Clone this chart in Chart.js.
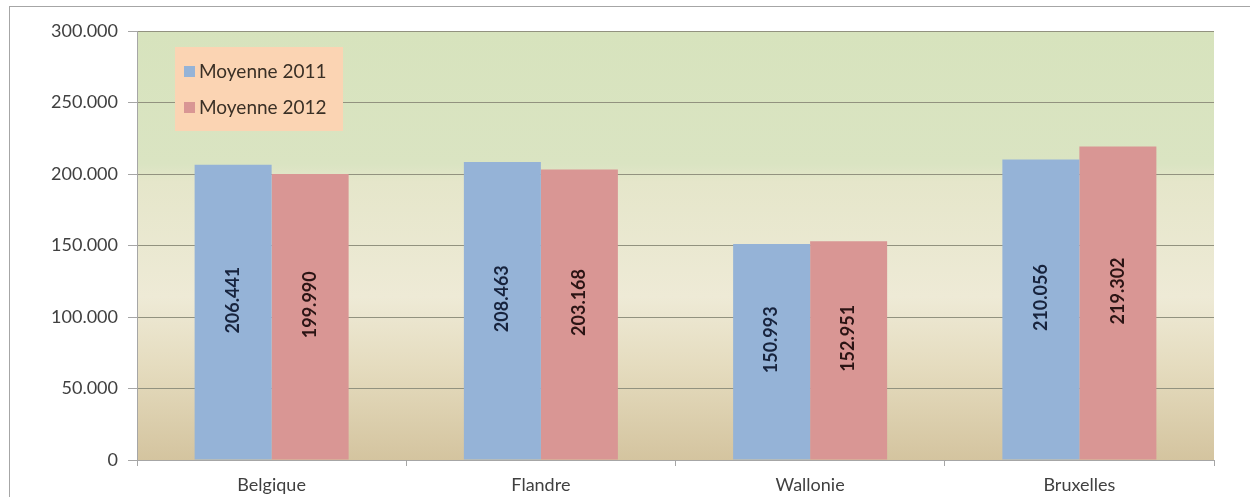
<!DOCTYPE html>
<html><head><meta charset="utf-8">
<script src="https://cdn.jsdelivr.net/npm/chart.js@4/dist/chart.umd.min.js"></script>
<style>
html,body{margin:0;padding:0;background:#fff;}
#wrap{position:relative;width:1250px;height:497px;overflow:hidden;}
#frame{position:absolute;left:9px;top:6px;width:1300px;height:600px;border-top:1px solid #a6a6a6;border-left:1px solid #a6a6a6;box-sizing:border-box;}
canvas{position:absolute;left:0;top:0;}
</style></head>
<body><div id="wrap"><div id="frame"></div><canvas id="c" width="1250" height="497"></canvas></div>
<script>
const categories = ['Belgique', 'Flandre', 'Wallonie', 'Bruxelles'];
const seriesNames = ['Moyenne 2011', 'Moyenne 2012'];
const values2011 = [206441, 208463, 150993, 210056];
const values2012 = [199990, 203168, 152951, 219302];
const yTicks = [0, 50000, 100000, 150000, 200000, 250000, 300000];

const fmt = v => v === 0 ? '0' : String(Math.round(v)).replace(/\B(?=(\d{3})+(?!\d))/g, '.');
const FONT = 'Lato, "Open Sans", sans-serif';

const bgPlugin = {
  id: 'bg',
  beforeDraw(chart) {
    const {ctx, chartArea: a} = chart;
    const g = ctx.createLinearGradient(0, a.top, 0, a.bottom);
    g.addColorStop(0, '#d7e3bd');
    g.addColorStop(0.31, '#dae4c2');
    g.addColorStop(0.35, '#e5e6ca');
    g.addColorStop(0.62, '#eeead6');
    g.addColorStop(0.78, '#e5dcbf');
    g.addColorStop(1, '#d4c49f');
    ctx.save();
    ctx.fillStyle = g;
    ctx.fillRect(a.left, a.top, a.right - a.left, a.bottom - a.top);
    ctx.restore();
  }
};

const labelPlugin = {
  id: 'vlabels',
  afterDatasetsDraw(chart) {
    const ctx = chart.ctx;
    const colors = ['#17233d', '#2b1414'];
    chart.data.datasets.forEach((ds, di) => {
      chart.getDatasetMeta(di).data.forEach((bar, i) => {
        const cy = (bar.y + bar.base) / 2 - 12;
        ctx.save();
        ctx.translate(bar.x, cy);
        ctx.rotate(-Math.PI / 2);
        ctx.font = 'bold 18px ' + FONT;
        ctx.fillStyle = colors[di];
        ctx.textAlign = 'center';
        ctx.textBaseline = 'middle';
        ctx.fillText(fmt(ds.data[i]), 0, 0);
        ctx.restore();
      });
    });
  }
};

const legendPlugin = {
  id: 'boxlegend',
  afterDatasetsDraw(chart) {
    const ctx = chart.ctx;
    const x = 175, y = 47, w = 168, h = 84;
    ctx.save();
    ctx.fillStyle = '#fbd4b3';
    ctx.fillRect(x, y, w, h);
    ctx.font = '19px ' + FONT;
    ctx.textBaseline = 'middle';
    chart.data.datasets.forEach((ds, i) => {
      const ly = y + 24 + i * 36;
      ctx.fillStyle = ds.backgroundColor;
      ctx.fillRect(x + 9, ly - 5, 11, 11);
      ctx.fillStyle = '#3a3026';
      ctx.fillText(ds.label, x + 24, ly + 1);
    });
    ctx.restore();
  }
};

new Chart(document.getElementById('c'), {
  type: 'bar',
  data: {
    labels: categories,
    datasets: [
      {label: seriesNames[0], data: values2011, backgroundColor: '#95b3d7'},
      {label: seriesNames[1], data: values2012, backgroundColor: '#d99694'}
    ]
  },
  options: {
    responsive: false,
    animation: false,
    layout: {padding: {left: 0, right: 36, top: 31, bottom: 0}},
    datasets: {bar: {categoryPercentage: 0.572, barPercentage: 1}},
    plugins: {legend: {display: false}, tooltip: {enabled: false}},
    scales: {
      x: {
        grid: {display: true, drawOnChartArea: false, offset: true, tickLength: 6, color: '#a6a6a6'},
        border: {color: '#a6a6a6'},
        ticks: {color: '#404040', font: {family: FONT, size: 18}, padding: 8},
        afterFit(s) { s.height = 37; }
      },
      y: {
        min: 0, max: 300000,
        afterBuildTicks(s) { s.ticks = yTicks.map(v => ({value: v})); },
        grid: {color: '#92927f', tickLength: 9, tickColor: '#a6a6a6'},
        border: {color: '#a6a6a6'},
        ticks: {color: '#404040', font: {family: FONT, size: 18}, padding: 10, callback: v => fmt(v)},
        afterFit(s) { s.width = 137; }
      }
    }
  },
  plugins: [bgPlugin, labelPlugin, legendPlugin]
});
</script></body></html>
